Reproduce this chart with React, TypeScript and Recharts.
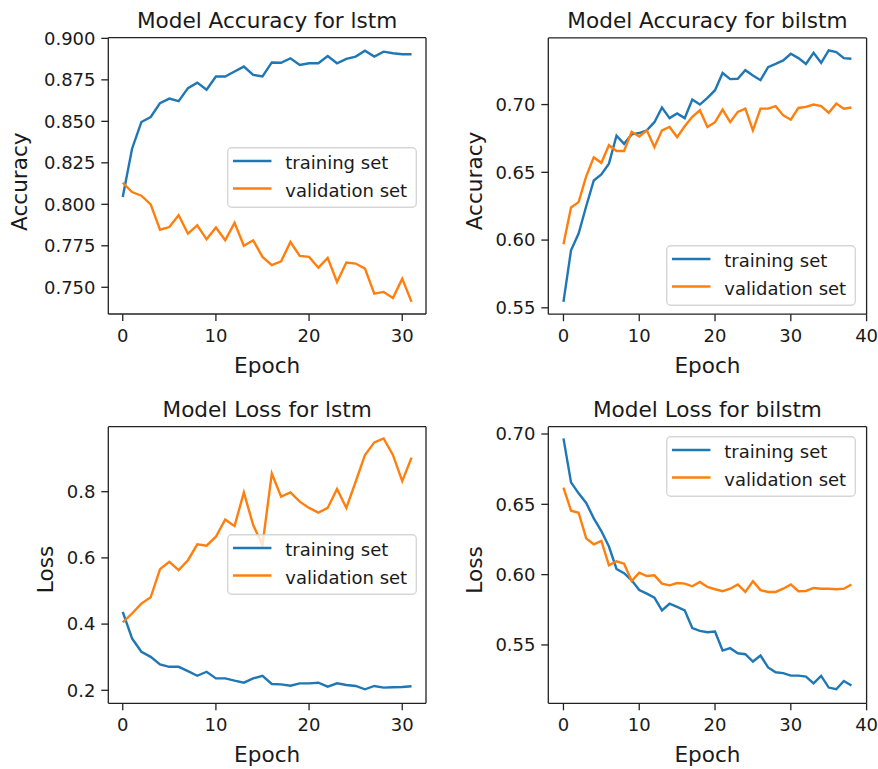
import React from 'react';
import { LineChart, Line, XAxis, YAxis, Legend } from 'recharts';

const FONT = '"DejaVu Sans", "Liberation Sans", sans-serif';
const TEXT = '#1a1a1a';
const SPINE = '#222222';
const BLUE = '#1f77b4';
const ORANGE = '#ff7f0e';

// ---- data ----
const lstmAccTrain = [0.8044, 0.8335, 0.8496, 0.8526, 0.861, 0.8637, 0.8622, 0.870, 0.8733, 0.869, 0.877, 0.877, 0.880, 0.883, 0.878, 0.877, 0.8855, 0.8853, 0.888, 0.884, 0.885, 0.885, 0.8893, 0.885, 0.8876, 0.889, 0.8926, 0.889, 0.892, 0.891, 0.8904, 0.8904];
const lstmAccVal = [0.813, 0.8074, 0.8052, 0.800, 0.7847, 0.7863, 0.7934, 0.7823, 0.7873, 0.7789, 0.786, 0.7783, 0.7888, 0.775, 0.7783, 0.7683, 0.7633, 0.7657, 0.7773, 0.7689, 0.7683, 0.7618, 0.7677, 0.7532, 0.7649, 0.7643, 0.7612, 0.7462, 0.7472, 0.7436, 0.7552, 0.7412];

const bilstmAccTrain = [0.5544, 0.5925, 0.6048, 0.625, 0.644, 0.6485, 0.6564, 0.677, 0.671, 0.678, 0.679, 0.681, 0.687, 0.6978, 0.690, 0.6935, 0.690, 0.7037, 0.700, 0.705, 0.7106, 0.7233, 0.7188, 0.719, 0.7254, 0.7215, 0.718, 0.7276, 0.730, 0.7326, 0.7375, 0.7343, 0.730, 0.7382, 0.7308, 0.740, 0.7387, 0.7343, 0.7338];
const bilstmAccVal = [0.597, 0.624, 0.628, 0.647, 0.661, 0.657, 0.670, 0.6657, 0.6657, 0.680, 0.6765, 0.681, 0.6687, 0.681, 0.6835, 0.676, 0.684, 0.691, 0.6958, 0.6835, 0.687, 0.6963, 0.687, 0.6946, 0.697, 0.681, 0.697, 0.697, 0.6988, 0.692, 0.6888, 0.6975, 0.6983, 0.700, 0.6988, 0.694, 0.7007, 0.697, 0.6978];

const lstmLossTrain = [0.437, 0.357, 0.3165, 0.301, 0.278, 0.271, 0.271, 0.258, 0.244, 0.256, 0.236, 0.236, 0.229, 0.223, 0.236, 0.244, 0.219, 0.218, 0.214, 0.221, 0.221, 0.223, 0.211, 0.221, 0.216, 0.213, 0.203, 0.213, 0.208, 0.209, 0.210, 0.212];
const lstmLossVal = [0.405, 0.432, 0.462, 0.481, 0.566, 0.588, 0.563, 0.593, 0.641, 0.637, 0.664, 0.716, 0.696, 0.798, 0.699, 0.639, 0.855, 0.785, 0.798, 0.770, 0.751, 0.737, 0.751, 0.808, 0.751, 0.830, 0.911, 0.949, 0.961, 0.911, 0.832, 0.903];

const bilstmLossTrain = [0.6969, 0.6656, 0.6578, 0.651, 0.640, 0.631, 0.620, 0.604, 0.601, 0.596, 0.589, 0.5865, 0.5836, 0.5746, 0.5793, 0.577, 0.5746, 0.562, 0.560, 0.559, 0.5595, 0.546, 0.5477, 0.5441, 0.5434, 0.5382, 0.5425, 0.534, 0.5306, 0.530, 0.5282, 0.5282, 0.5275, 0.5227, 0.528, 0.5197, 0.5185, 0.5244, 0.5211];
const bilstmLossVal = [0.6618, 0.6455, 0.644, 0.6258, 0.6216, 0.624, 0.6066, 0.6095, 0.6078, 0.5955, 0.6014, 0.599, 0.5995, 0.5936, 0.5924, 0.594, 0.5936, 0.5917, 0.5948, 0.5912, 0.5896, 0.5882, 0.590, 0.593, 0.5877, 0.5953, 0.589, 0.5877, 0.5877, 0.590, 0.593, 0.5882, 0.5884, 0.5905, 0.590, 0.590, 0.5896, 0.590, 0.593];

// ---- tick labels ----
const xTicksLstm = [0, 10, 20, 30];
const xTicksBilstm = [0, 10, 20, 30, 40];
const accTicksLstm = [0.75, 0.775, 0.8, 0.825, 0.85, 0.875, 0.9];
const accTicksBilstm = [0.55, 0.6, 0.65, 0.7];
const lossTicksLstm = [0.2, 0.4, 0.6, 0.8];
const lossTicksBilstm = [0.55, 0.6, 0.65, 0.7];

const seriesNames = ['training set', 'validation set'];

const buildRows = (train: number[], val: number[]) =>
  train.map((t, i) => ({ epoch: i, train: t, val: val[i] }));

type PanelCfg = {
  left: number;
  top: number;
  w: number;
  h: number;
  plot: { l: number; r: number; t: number; b: number };
  title: string;
  yLabel: string;
  yLabelX: number;
  yLabelY: number;
  rows: { epoch: number; train: number; val: number }[];
  xDomain: [number, number];
  xTicks: number[];
  yDomain: [number, number];
  yTicks: number[];
  yDigits: number;
  legend: { x: number; y: number };
};

const LEG_W = 190;
const LEG_H = 61;

function LegendBox() {
  const colors = [BLUE, ORANGE];
  return (
    <svg width={LEG_W} height={LEG_H} style={{ display: 'block', overflow: 'visible' }}>
      <rect x={0.7} y={0.7} width={LEG_W - 1.4} height={LEG_H - 1.4} rx={4} ry={4}
        fill="rgba(255,255,255,0.8)" stroke="rgba(204,204,204,0.8)" strokeWidth={1.4} />
      {seriesNames.map((name, i) => {
        const cy = 14 + i * 27.6;
        return (
          <g key={name}>
            <line x1={7.2} x2={43.2} y1={cy} y2={cy} stroke={colors[i]} strokeWidth={2.5} strokeLinecap="square" />
            <text x={58.3} y={cy + 8.4} fontSize={18} fontFamily={FONT} fill={TEXT}>{name}</text>
          </g>
        );
      })}
    </svg>
  );
}

const EDGE = 1; // thickness of the top / right frame "axes" boxes

function Panel({ cfg }: { cfg: PanelCfg }) {
  const { w, h, plot } = cfg;
  const cx = (plot.l + plot.r) / 2;
  const tickStyle = { fill: TEXT, fontSize: 18, fontFamily: FONT };
  const lineStyle = { stroke: SPINE, strokeWidth: 1.3 };
  return (
    <div style={{ position: 'absolute', left: cfg.left, top: cfg.top, width: w, height: h }}>
      <LineChart
        width={w}
        height={h}
        data={cfg.rows}
        margin={{ top: plot.t - EDGE, right: w - plot.r - EDGE, bottom: 0, left: 0 }}
      >
        <XAxis
          dataKey="epoch"
          type="number"
          domain={cfg.xDomain}
          ticks={cfg.xTicks}
          allowDataOverflow
          interval={0}
          height={h - plot.b}
          tickSize={7}
          tickMargin={8.3}
          tick={tickStyle}
          tickLine={lineStyle}
          axisLine={lineStyle}
          label={{
            content: () => (
              <text x={cx} y={plot.b + 58.5} textAnchor="middle" fontSize={21.6} fontFamily={FONT} fill={TEXT}>
                Epoch
              </text>
            ),
          }}
        />
        <XAxis
          xAxisId="top"
          orientation="top"
          dataKey="epoch"
          type="number"
          domain={cfg.xDomain}
          ticks={cfg.xTicks}
          allowDataOverflow
          height={EDGE}
          tick={false}
          tickLine={false}
          axisLine={lineStyle}
          label={{
            content: () => (
              <text x={cx} y={plot.t - 9.7} textAnchor="middle" fontSize={21.6} fontFamily={FONT} fill={TEXT}>
                {cfg.title}
              </text>
            ),
          }}
        />
        <YAxis
          type="number"
          domain={cfg.yDomain}
          ticks={cfg.yTicks}
          allowDataOverflow
          interval={0}
          width={plot.l}
          tickSize={7}
          tickMargin={5.8}
          tick={tickStyle}
          tickLine={lineStyle}
          axisLine={lineStyle}
          tickFormatter={(v: number) => v.toFixed(cfg.yDigits)}
          label={{
            content: () => (
              <text
                x={cfg.yLabelX}
                y={cfg.yLabelY}
                textAnchor="middle"
                fontSize={21.6}
                fontFamily={FONT}
                fill={TEXT}
                transform={`rotate(-90, ${cfg.yLabelX}, ${cfg.yLabelY})`}
              >
                {cfg.yLabel}
              </text>
            ),
          }}
        />
        <YAxis
          yAxisId="right"
          orientation="right"
          type="number"
          domain={cfg.yDomain}
          ticks={cfg.yTicks}
          allowDataOverflow
          width={EDGE}
          tick={false}
          tickLine={false}
          axisLine={lineStyle}
        />
        <Line
          type="linear"
          dataKey="train"
          name={seriesNames[0]}
          stroke={BLUE}
          strokeWidth={2.4}
          dot={false}
          activeDot={false}
          isAnimationActive={false}
        />
        <Line
          type="linear"
          dataKey="val"
          name={seriesNames[1]}
          stroke={ORANGE}
          strokeWidth={2.4}
          dot={false}
          activeDot={false}
          isAnimationActive={false}
        />
        <Legend
          layout="horizontal"
          align="center"
          verticalAlign="middle"
          content={() => <LegendBox />}
          wrapperStyle={{ left: cfg.legend.x, top: cfg.legend.y, width: LEG_W, height: LEG_H, bottom: 'auto', right: 'auto' }}
        />
      </LineChart>
    </div>
  );
}

const W = 439;
const H = 384;

const panels: PanelCfg[] = [
  {
    left: 0, top: 0, w: W, h: H,
    plot: { l: 108.3, r: 426, t: 37.7, b: 314 },
    title: 'Model Accuracy for lstm', yLabel: 'Accuracy', yLabelX: 27.5, yLabelY: 181.7,
    rows: buildRows(lstmAccTrain, lstmAccVal),
    xDomain: [-1.55, 32.55], xTicks: xTicksLstm,
    yDomain: [0.7339, 0.9004], yTicks: accTicksLstm, yDigits: 3,
    legend: { x: 226.7, y: 146.7 },
  },
  {
    left: 439, top: 0, w: W, h: H,
    plot: { l: 109.3, r: 427.6, t: 37.9, b: 314.2 },
    title: 'Model Accuracy for bilstm', yLabel: 'Accuracy', yLabelX: 43.4, yLabelY: 181,
    rows: buildRows(bilstmAccTrain, bilstmAccVal),
    xDomain: [-2, 40], xTicks: xTicksBilstm,
    yDomain: [0.5453, 0.7492], yTicks: accTicksBilstm, yDigits: 2,
    legend: { x: 227.4, y: 244.6 },
  },
  {
    left: 0, top: 385, w: W, h: H,
    plot: { l: 108.3, r: 426, t: 41.7, b: 318.3 },
    title: 'Model Loss for lstm', yLabel: 'Loss', yLabelX: 52.8, yLabelY: 184.5,
    rows: buildRows(lstmLossTrain, lstmLossVal),
    xDomain: [-1.55, 32.55], xTicks: xTicksLstm,
    yDomain: [0.1607, 0.9964], yTicks: lossTicksLstm, yDigits: 1,
    legend: { x: 226.7, y: 149 },
  },
  {
    left: 439, top: 385, w: W, h: H,
    plot: { l: 109.3, r: 427.6, t: 41.7, b: 318.3 },
    title: 'Model Loss for bilstm', yLabel: 'Loss', yLabelX: 43, yLabelY: 185,
    rows: buildRows(bilstmLossTrain, bilstmLossVal),
    xDomain: [-2, 40], xTicks: xTicksBilstm,
    yDomain: [0.5085, 0.7052], yTicks: lossTicksBilstm, yDigits: 2,
    legend: { x: 227.4, y: 51.2 },
  },
];

export default function App() {
  return (
    <div style={{ position: 'absolute', left: 0, top: 0, width: 878, height: 769, background: '#ffffff', overflow: 'hidden' }}>
      {panels.map((p) => (
        <Panel key={p.title} cfg={p} />
      ))}
    </div>
  );
}
